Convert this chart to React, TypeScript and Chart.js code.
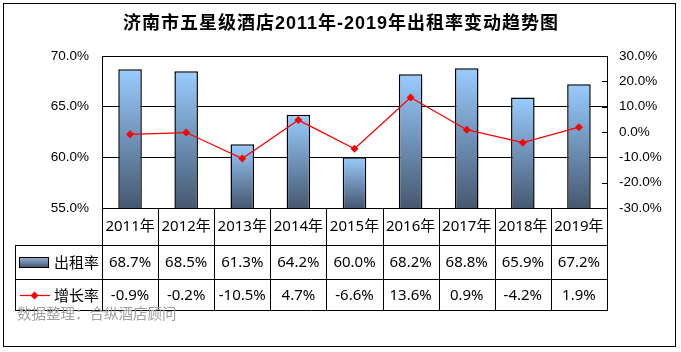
import React, { useEffect, useRef } from "react";
import { Chart, registerables } from "chart.js";

Chart.register(...registerables);

const years = ["2011年", "2012年", "2013年", "2014年", "2015年", "2016年", "2017年", "2018年", "2019年"];
const occupancy = [68.7, 68.5, 61.3, 64.2, 60.0, 68.2, 68.8, 65.9, 67.2];
const growth = [-0.9, -0.2, -10.5, 4.7, -6.6, 13.6, 0.9, -4.2, 1.9];
const occName = "出租率";
const growthName = "增长率";
const titleText = "济南市五星级酒店2011年-2019年出租率变动趋势图";
const sourceText = "数据整理：合纵酒店顾问";
const occAxis = { min: 55, max: 70, step: 5 };
const growthAxis = { min: -30, max: 30, step: 10 };

const BAR_TOP = "#99CCFF";
const BAR_BOTTOM = "#465870";
const TABLE_FONT = '15px "Noto Sans", "Noto Sans CJK SC", sans-serif';

const px = (v: number) => Math.round(v) + 0.5;

const tablePlugin = {
  id: "tablePlugin",
  beforeDraw(chart: any) {
    const c = chart.ctx;
    c.save();
    c.fillStyle = "#ffffff";
    c.fillRect(0, 0, chart.width, chart.height);
    c.restore();
  },
  afterDraw(chart: any) {
    const c = chart.ctx as CanvasRenderingContext2D;
    const area = chart.chartArea;
    const xs = chart.scales.x;
    const y1 = chart.scales.y1;
    c.save();

    // outer border
    c.strokeStyle = "#000";
    c.lineWidth = 1;
    c.strokeRect(3.5, 3.5, 672, 343);

    // title
    c.fillStyle = "#000";
    c.font = 'bold 18px "Liberation Sans", "Noto Sans CJK SC", sans-serif';
    (c as any).letterSpacing = "1px";
    c.textAlign = "center";
    c.textBaseline = "middle";
    c.fillText(titleText, 341, 24);
    (c as any).letterSpacing = "0px";

    // right axis inner ticks
    c.beginPath();
    for (let v = growthAxis.min; v <= growthAxis.max; v += growthAxis.step) {
      const y = px(y1.getPixelForValue(v));
      c.moveTo(area.right - 5, y);
      c.lineTo(area.right, y);
    }
    c.stroke();

    // table
    const n = years.length;
    const w = xs.getPixelForValue(1) - xs.getPixelForValue(0);
    const top = area.bottom;
    const r1 = top + 37;
    const r2 = r1 + 34;
    const r3 = r2 + 31;
    const legendLeft = 15;

    c.beginPath();
    for (let i = 0; i <= n; i++) {
      const x = px(xs.getPixelForValue(0) - w / 2 + i * w);
      c.moveTo(x, top);
      c.lineTo(x, r3);
    }
    [r1, r2, r3].forEach((y) => {
      c.moveTo(legendLeft, px(y));
      c.lineTo(px(area.right) + 0.5, px(y));
    });
    c.moveTo(px(legendLeft), px(r1));
    c.lineTo(px(legendLeft), px(r3));
    c.stroke();

    c.font = TABLE_FONT;
    c.fillStyle = "#000";
    c.textAlign = "center";
    c.textBaseline = "middle";
    for (let i = 0; i < n; i++) {
      const x = xs.getPixelForValue(i);
      c.fillText(years[i], x, (top + r1) / 2);
      c.fillText(occupancy[i].toFixed(1) + "%", x, (r1 + r2) / 2 + 1);
      c.fillText(growth[i].toFixed(1) + "%", x, (r2 + r3) / 2 + 1);
    }

    // legend keys
    const ry1 = (r1 + r2) / 2;
    const g = c.createLinearGradient(0, ry1 - 5, 0, ry1 + 5);
    g.addColorStop(0, "#9DB8DA");
    g.addColorStop(1, "#475A74");
    c.fillStyle = g;
    c.fillRect(19.5, ry1 - 4.5, 29, 10);
    c.strokeStyle = "#000";
    c.strokeRect(19.5, ry1 - 4.5, 29, 10);

    const ry2 = (r2 + r3) / 2 + 1;
    c.strokeStyle = "#FF0000";
    c.lineWidth = 1.25;
    c.beginPath();
    c.moveTo(20, ry2);
    c.lineTo(50, ry2);
    c.stroke();
    c.fillStyle = "#FF0000";
    c.beginPath();
    c.moveTo(34.5, ry2 - 4);
    c.lineTo(38.5, ry2);
    c.lineTo(34.5, ry2 + 4);
    c.lineTo(30.5, ry2);
    c.closePath();
    c.fill();

    c.fillStyle = "#000";
    c.font = '15px "Noto Sans CJK SC", sans-serif';
    c.textAlign = "left";
    c.fillText(occName, 54, ry1);
    c.fillText(growthName, 54, ry2);

    // source
    c.fillStyle = "#A0A0A0";
    c.font = '14.5px "Noto Sans CJK SC", sans-serif';
    c.fillText(sourceText, 17, 313);

    c.restore();
  },
};

export default function App() {
  const ref = useRef<HTMLCanvasElement | null>(null);

  useEffect(() => {
    if (!ref.current) return;
    const chart = new Chart(ref.current, {
      type: "bar",
      data: {
        labels: years,
        datasets: [
          {
            type: "line",
            label: growthName,
            data: growth,
            yAxisID: "y1",
            borderColor: "#FF0000",
            borderWidth: 1.25,
            pointStyle: "rectRot",
            pointRadius: 4,
            pointBorderWidth: 0,
            pointBackgroundColor: "#FF0000",
            tension: 0,
            order: 0,
          } as any,
          {
            type: "bar",
            label: occName,
            data: occupancy,
            yAxisID: "y",
            borderColor: "#000",
            borderWidth: 1.5,
            barPercentage: 0.42,
            categoryPercentage: 1,
            order: 1,
            backgroundColor: (ctx: any) => {
              const ch = ctx.chart;
              const area = ch.chartArea;
              if (!area || ctx.type !== "data") return BAR_TOP;
              const yTop = ch.scales.y.getPixelForValue(ctx.raw);
              const gr = ch.ctx.createLinearGradient(0, yTop, 0, area.bottom);
              gr.addColorStop(0, BAR_TOP);
              gr.addColorStop(1, BAR_BOTTOM);
              return gr;
            },
          } as any,
        ],
      },
      options: {
        animation: false,
        responsive: false,
        devicePixelRatio: 1,
        layout: { padding: { top: 56, bottom: 144, left: 0, right: 0 } },
        plugins: {
          legend: { display: false },
          title: { display: false },
          tooltip: { enabled: false },
        },
        scales: {
          x: { display: false },
          y: {
            position: "left",
            min: occAxis.min,
            max: occAxis.max,
            ticks: {
              stepSize: occAxis.step,
              padding: 13,
              color: "#000",
              font: { family: '"Liberation Sans", Arial, sans-serif', size: 13.5 },
              callback: (v: any) => Number(v).toFixed(1) + "%",
            },
            grid: { color: "#000", lineWidth: 1, drawTicks: false },
            border: { display: true, color: "#000", width: 1 },
            afterFit: (s: any) => {
              s.width = 102;
            },
          },
          y1: {
            position: "right",
            min: growthAxis.min,
            max: growthAxis.max,
            ticks: {
              stepSize: growthAxis.step,
              padding: 12,
              color: "#000",
              font: { family: '"Liberation Sans", Arial, sans-serif', size: 13.5 },
              callback: (v: any) => Number(v).toFixed(1) + "%",
            },
            grid: { drawOnChartArea: false, drawTicks: false },
            border: { display: true, color: "#000", width: 1 },
            afterFit: (s: any) => {
              s.width = 74;
            },
          },
        },
      },
      plugins: [tablePlugin],
    });
    return () => chart.destroy();
  }, []);

  return (
    <div style={{ position: "absolute", left: 0, top: 0, width: 681, height: 352 }}>
      <canvas ref={ref} width={681} height={352} style={{ display: "block" }} />
    </div>
  );
}
